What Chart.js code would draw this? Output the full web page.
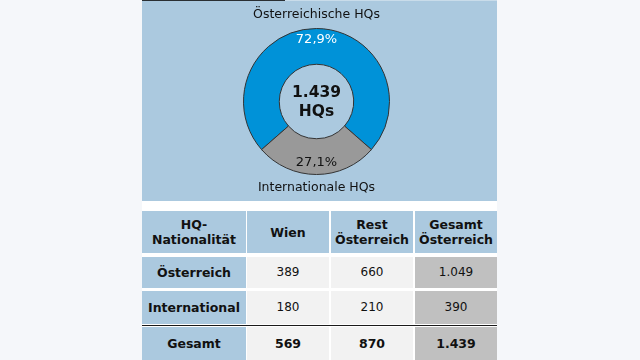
<!DOCTYPE html>
<html>
<head>
<meta charset="utf-8">
<script src="https://cdn.jsdelivr.net/npm/chart.js@4/dist/chart.umd.min.js"></script>
<style>
  html, body { margin:0; padding:0; }
  body { width:640px; height:360px; overflow:hidden; background:#f5f7fa; position:relative; font-family:"DejaVu Sans", Verdana, sans-serif; }
  #panel { position:absolute; left:142px; top:0; width:355px; height:201px; background:#abc9df; }
  #topline { position:absolute; left:0; top:0; width:355px; height:1px; background:#c9dcea; }
  #topdark { position:absolute; left:0; top:0; width:143px; height:1px; background:#2a2f33; }
  #wrap { position:absolute; left:142px; top:201px; width:355px; height:159px; background:#ffffff; }
  .cell { position:absolute; display:flex; align-items:center; justify-content:center; text-align:center; color:#111; font-size:12px; line-height:15px; box-sizing:border-box; }
  .hdr { background:#abc9df; font-weight:bold; font-size:12.5px; }
  .dat { background:#f2f2f2; }
  .tot { background:#c0c0c0; }
  .bold { font-weight:bold; font-size:12.5px; }
  #rule { position:absolute; left:0; width:355px; height:1px; background:#1a1a1a; }
</style>
</head>
<body>
<div id="panel">
  <canvas id="c" width="355" height="201"></canvas>
  <div id="topline"></div>
  <div id="topdark"></div>
</div>
<div id="wrap"></div>
<script>
// ---- data ----
const categories = ['Österreichische HQs', 'Internationale HQs'];
const hqCounts = [1049, 390];
const centerLines = ['1.439', 'HQs'];

const colHeaders = ['HQ-\nNationalität', 'Wien', 'Rest\nÖsterreich', 'Gesamt\nÖsterreich'];
const rowHeaders = ['Österreich', 'International', 'Gesamt'];
const wienValues = [389, 180, 569];
const restValues = [660, 210, 870];
const gesamtValues = [1049, 390, 1439];

// ---- helpers ----
function fmtNum(n) { return String(n).replace(/\B(?=(\d{3})+(?!\d))/g, '.'); }
const total = hqCounts.reduce((a, b) => a + b, 0);

// ---- table ----
const wrap = document.getElementById('wrap');
const colX = [0, 105, 189, 273];
const colW = [104, 82, 82, 82];
const rowY = [10, 56, 90, 126];
const rowH = [42, 31, 33, 33];
function addCell(r, c, text, cls) {
  const d = document.createElement('div');
  d.className = 'cell ' + cls;
  d.style.left = colX[c] + 'px';
  d.style.top = rowY[r] + 'px';
  d.style.width = colW[c] + 'px';
  d.style.height = rowH[r] + 'px';
  d.innerHTML = text.split('\n').join('<br>');
  wrap.appendChild(d);
}
colHeaders.forEach((h, c) => addCell(0, c, h, 'hdr'));
rowHeaders.forEach((h, r) => {
  const isTotal = r === rowHeaders.length - 1;
  addCell(r + 1, 0, h, 'hdr');
  addCell(r + 1, 1, fmtNum(wienValues[r]), 'dat' + (isTotal ? ' bold' : ''));
  addCell(r + 1, 2, fmtNum(restValues[r]), 'dat' + (isTotal ? ' bold' : ''));
  addCell(r + 1, 3, fmtNum(gesamtValues[r]), 'tot' + (isTotal ? ' bold' : ''));
});
const rule = document.createElement('div');
rule.id = 'rule';
rule.style.top = '124px';
wrap.appendChild(rule);

// ---- donut ----
const labelPlugin = {
  id: 'donutLabels',
  afterDatasetsDraw(chart) {
    const ctx = chart.ctx;
    const meta = chart.getDatasetMeta(0);
    const arcs = meta.data;
    if (!arcs.length) return;
    const a0 = arcs[0];
    const cx = a0.x, cy = a0.y, outer = a0.outerRadius, inner = a0.innerRadius;
    ctx.save();
    ctx.textAlign = 'center';
    ctx.textBaseline = 'middle';
    // percentages
    const pctColors = ['#ffffff', '#111111'];
    arcs.forEach((arc, i) => {
      const mid = (arc.startAngle + arc.endAngle) / 2;
      const r = inner + (outer - inner) * 0.68;
      const pct = (hqCounts[i] / total * 100).toFixed(1).replace('.', ',') + '%';
      ctx.fillStyle = pctColors[i];
      ctx.font = '13px "DejaVu Sans", Verdana, sans-serif';
      ctx.fillText(pct, cx + Math.cos(mid) * r, cy + Math.sin(mid) * r);
    });
    // category labels
    ctx.fillStyle = '#111111';
    ctx.font = '12.5px "DejaVu Sans", Verdana, sans-serif';
    ctx.fillText(categories[0], cx, cy - outer - 13.5);
    ctx.fillText(categories[1], cx, cy + outer + 13.5);
    // center
    ctx.font = 'bold 15.5px "DejaVu Sans", Verdana, sans-serif';
    ctx.fillText(centerLines[0], cx, cy - 9);
    ctx.fillText(centerLines[1], cx, cy + 10);
    ctx.restore();
  }
};

new Chart(document.getElementById('c'), {
  type: 'doughnut',
  data: {
    labels: categories,
    datasets: [{
      data: hqCounts,
      backgroundColor: ['#0092d8', '#999999'],
      borderColor: '#333333',
      borderWidth: 1,
      hoverOffset: 0
    }]
  },
  options: {
    responsive: false,
    animation: false,
    devicePixelRatio: 1,
    cutout: '51%',
    rotation: -hqCounts[0] / total * 180,
    layout: { padding: { top: 28, bottom: 26, left: 0, right: 6 } },
    plugins: { legend: { display: false }, tooltip: { enabled: false } }
  },
  plugins: [labelPlugin]
});
</script>
</body>
</html>
